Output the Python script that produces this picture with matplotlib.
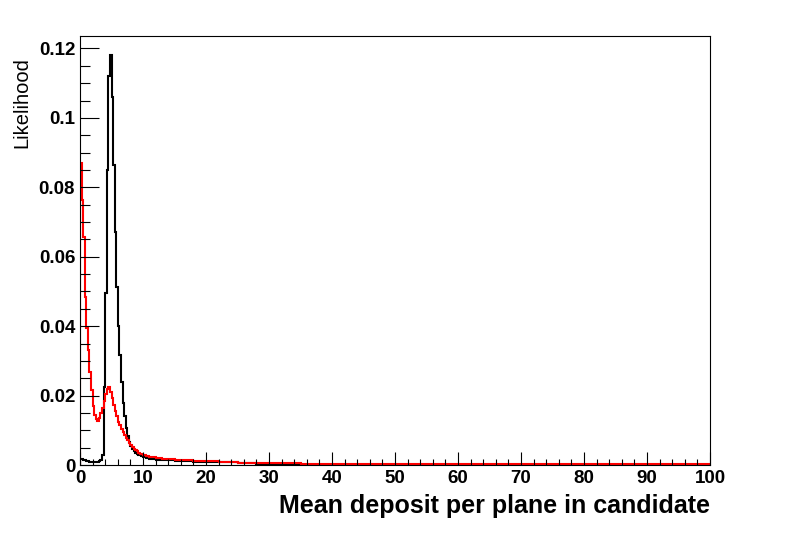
import numpy as np
import matplotlib
matplotlib.use("Agg")
import matplotlib.pyplot as plt
from matplotlib.ticker import MultipleLocator, FuncFormatter

# bin edges: 0.25 wide up to 10, coarser in the flat tail
fine_edges = np.arange(0, 10, 0.25)
tail_edges = [10, 10.5, 11, 12, 13, 14, 15, 16, 18, 20, 22, 25, 28, 30,
              35, 40, 45, 50, 55, 60, 70, 80, 90, 100]
edges = np.concatenate([fine_edges, tail_edges])

black_fine = [0.0018, 0.0016, 0.0014, 0.0013, 0.0012, 0.0011, 0.0010, 0.0010,
              0.0010, 0.0010, 0.0010, 0.0010, 0.0011, 0.0013, 0.0030, 0.0225,
              0.0496, 0.0850, 0.1120, 0.1180, 0.1060, 0.0865, 0.0672, 0.0514,
              0.0400, 0.0317, 0.0240, 0.0180, 0.0140, 0.0108, 0.0084, 0.0067,
              0.0055, 0.0046, 0.0040, 0.0036, 0.0032, 0.0030, 0.0028, 0.0026]
black_tail = [0.0023, 0.0020, 0.0017, 0.0015, 0.0014, 0.0013, 0.0012, 0.0011,
              0.0010, 0.0009, 0.0008, 0.0007, 0.0004, 0.0002, 0.0001, 0.0001,
              0.0001, 0.0001, 0.0001, 0.0001, 0.0001, 0.0001, 0.0001]

red_fine = [0.0871, 0.0764, 0.0658, 0.0485, 0.0395, 0.0331, 0.0269, 0.0215,
            0.0170, 0.0145, 0.0133, 0.0128, 0.0136, 0.0149, 0.0163, 0.0185,
            0.0205, 0.0218, 0.0226, 0.0211, 0.0192, 0.0172, 0.0155, 0.0140,
            0.0125, 0.0114, 0.0104, 0.0094, 0.0086, 0.0078, 0.0071, 0.0064,
            0.0057, 0.0051, 0.0046, 0.0043, 0.0039, 0.0036, 0.0033, 0.0031]
red_tail = [0.0028, 0.0025, 0.0022, 0.0020, 0.0018, 0.0017, 0.0015, 0.0013,
            0.0012, 0.0011, 0.0009, 0.0007, 0.0006, 0.0005, 0.0004, 0.0004,
            0.0004, 0.0003, 0.0004, 0.0003, 0.0003, 0.0003, 0.0003]

black_vals = black_fine + black_tail
red_vals = red_fine + red_tail

plt.rcParams['font.family'] = ['Liberation Sans', 'DejaVu Sans']

fig = plt.figure(figsize=(7.88, 5.33), dpi=100)
ax = fig.add_axes([80 / 788, 68 / 533, 630 / 788, 429 / 533])

ax.stairs(black_vals, edges, color='black', lw=1.5)
ax.stairs(red_vals, edges, color='#ff0000', lw=1.5)

ax.set_xlim(0, 100)
ax.set_ylim(0, 0.1236)

ax.xaxis.set_major_locator(MultipleLocator(10))
ax.xaxis.set_minor_locator(MultipleLocator(2))
ax.yaxis.set_major_locator(MultipleLocator(0.02))
ax.yaxis.set_minor_locator(MultipleLocator(0.005))
ax.yaxis.set_major_formatter(FuncFormatter(lambda v, p: "%g" % round(v, 4)))

ax.tick_params(axis='both', which='both', direction='in', top=False, right=False,
               width=0.8, colors='black')
ax.tick_params(axis='x', which='major', length=9.4, pad=3.5, labelsize=13.5)
ax.tick_params(axis='x', which='minor', length=4.4)
ax.tick_params(axis='y', which='major', length=13.7, pad=3.5, labelsize=13.5)
ax.tick_params(axis='y', which='minor', length=7.2)
for lab in ax.get_xticklabels() + ax.get_yticklabels():
    lab.set_fontweight('bold')

for sp in ax.spines.values():
    sp.set_linewidth(0.8)

fig.text(710 / 788, 1 - 506 / 533, "Mean deposit per plane in candidate",
         ha='right', va='center', fontsize=18, fontweight='bold')
fig.text(22 / 788, 1 - 57 / 533, "Likelihood", rotation=90,
         ha='center', va='top', fontsize=14.5)

fig.savefig("out.png", dpi=100)
